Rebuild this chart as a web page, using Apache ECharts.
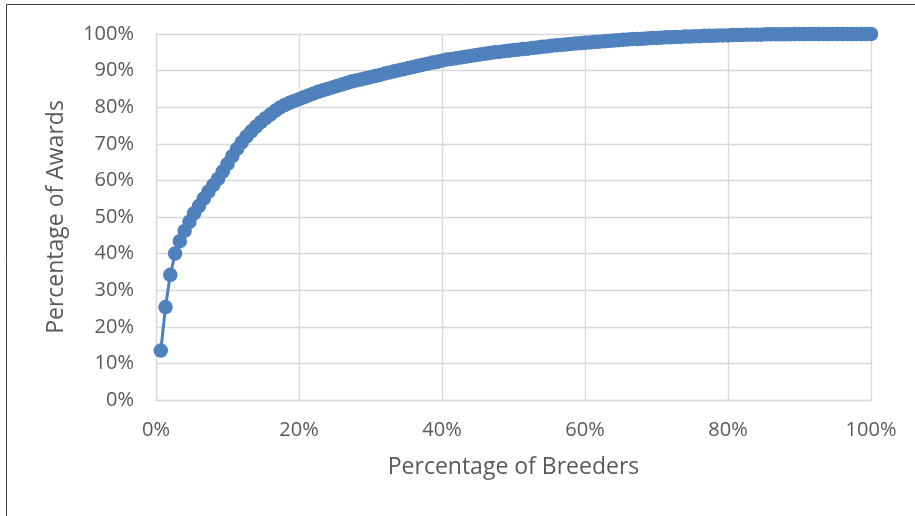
<!DOCTYPE html>
<html>
<head>
<meta charset="utf-8">
<script src="https://cdn.jsdelivr.net/npm/echarts@6/dist/echarts.min.js"></script>
<style>html,body{margin:0;padding:0;background:#fff}#chart{width:915px;height:516px}</style>
</head>
<body>
<div id="chart"></div>
<script>
// Percentage of breeders (x) — cumulative share
const breeders = [
  0.67,1.33,2,2.67,3.33,4,4.67,5.33,6,6.67,7.33,8,8.67,9.33,10,
  10.67,11.33,12,12.67,13.33,14,14.67,15.33,16,16.67,17.33,18,18.67,19.33,20,
  20.67,21.33,22,22.67,23.33,24,24.67,25.33,26,26.67,27.33,28,28.67,29.33,30,
  30.67,31.33,32,32.67,33.33,34,34.67,35.33,36,36.67,37.33,38,38.67,39.33,40,
  40.67,41.33,42,42.67,43.33,44,44.67,45.33,46,46.67,47.33,48,48.67,49.33,50,
  50.67,51.33,52,52.67,53.33,54,54.67,55.33,56,56.67,57.33,58,58.67,59.33,60,
  60.67,61.33,62,62.67,63.33,64,64.67,65.33,66,66.67,67.33,68,68.67,69.33,70,
  70.67,71.33,72,72.67,73.33,74,74.67,75.33,76,76.67,77.33,78,78.67,79.33,80,
  80.67,81.33,82,82.67,83.33,84,84.67,85.33,86,86.67,87.33,88,88.67,89.33,90,
  90.67,91.33,92,92.67,93.33,94,94.67,95.33,96,96.67,97.33,98,98.67,99.33,100
];
// Percentage of awards (y) — cumulative share
const awards = [
  13.5,25.4,34.2,40.0,43.4,46.2,48.7,51.0,53.0,55.0,56.9,58.7,60.4,62.4,64.5,
  66.6,68.6,70.4,72.0,73.4,74.7,75.9,77.0,78.0,79.0,79.9,80.6,81.2,81.7,82.2,
  82.7,83.2,83.7,84.2,84.6,85.0,85.4,85.8,86.2,86.6,87.0,87.3,87.6,87.9,88.2,
  88.5,88.8,89.2,89.5,89.8,90.1,90.4,90.7,91.0,91.3,91.6,91.9,92.2,92.4,92.7,
  93.0,93.2,93.4,93.6,93.8,94.0,94.2,94.4,94.6,94.8,95.0,95.1,95.3,95.4,95.6,
  95.7,95.9,96.0,96.2,96.3,96.5,96.6,96.8,96.9,97.0,97.1,97.3,97.4,97.5,97.6,
  97.7,97.8,97.9,98.0,98.1,98.2,98.3,98.4,98.5,98.6,98.6,98.7,98.8,98.9,98.9,
  99.0,99.1,99.1,99.2,99.2,99.3,99.3,99.4,99.4,99.5,99.5,99.5,99.6,99.6,99.6,
  99.7,99.7,99.7,99.8,99.8,99.8,99.8,99.9,99.9,99.9,99.9,99.9,99.9,100,100,
  100,100,100,100,100,100,100,100,100,100,100,100,100,100,100
];
const xTicks = [0, 20, 40, 60, 80, 100];
const yTicks = [0, 10, 20, 30, 40, 50, 60, 70, 80, 90, 100];
const xTitle = 'Percentage of Breeders';
const yTitle = 'Percentage of Awards';

const FONT = "'Open Sans', 'Liberation Sans', sans-serif";
const TXT = '#595959';
const GRID = '#d9d9d9';
const BLUE = '#4F81BD';

const chart = echarts.init(document.getElementById('chart'), null, {renderer: 'canvas'});
chart.setOption({
  animation: false,
  backgroundColor: '#ffffff',
  textStyle: {fontFamily: FONT},
  graphic: [{
    type: 'rect', silent: true,
    shape: {x: 6.5, y: 4.5, width: 930, height: 530},
    style: {fill: 'none', stroke: '#404040', lineWidth: 1}
  }],
  grid: {left: 156, right: 44, top: 34, bottom: 116, containLabel: false},
  xAxis: {
    type: 'value', min: xTicks[0], max: xTicks[xTicks.length - 1], interval: xTicks[1] - xTicks[0],
    name: xTitle, nameLocation: 'middle', nameGap: 56,
    nameTextStyle: {color: TXT, fontSize: 23, fontFamily: FONT},
    axisLine: {show: true, lineStyle: {color: GRID, width: 1.3}},
    axisTick: {show: false},
    axisLabel: {color: TXT, fontSize: 20, fontFamily: FONT, margin: 20, formatter: '{value}%'},
    splitLine: {show: true, lineStyle: {color: GRID, width: 1.3}}
  },
  yAxis: {
    type: 'value', min: yTicks[0], max: yTicks[yTicks.length - 1], interval: yTicks[1] - yTicks[0],
    name: yTitle, nameLocation: 'middle', nameGap: 88,
    nameTextStyle: {color: TXT, fontSize: 23, fontFamily: FONT},
    axisLine: {show: true, lineStyle: {color: GRID, width: 1.3}},
    axisTick: {show: false},
    axisLabel: {color: TXT, fontSize: 20, fontFamily: FONT, margin: 22, formatter: '{value}%'},
    splitLine: {show: true, lineStyle: {color: GRID, width: 1.3}}
  },
  series: [{
    type: 'line',
    data: breeders.map((x, i) => [x, awards[i]]),
    symbol: 'circle', symbolSize: 14.5, showSymbol: true,
    clip: false,
    itemStyle: {color: BLUE},
    lineStyle: {color: BLUE, width: 3},
    emphasis: {disabled: true}
  }]
});
</script>
</body>
</html>
